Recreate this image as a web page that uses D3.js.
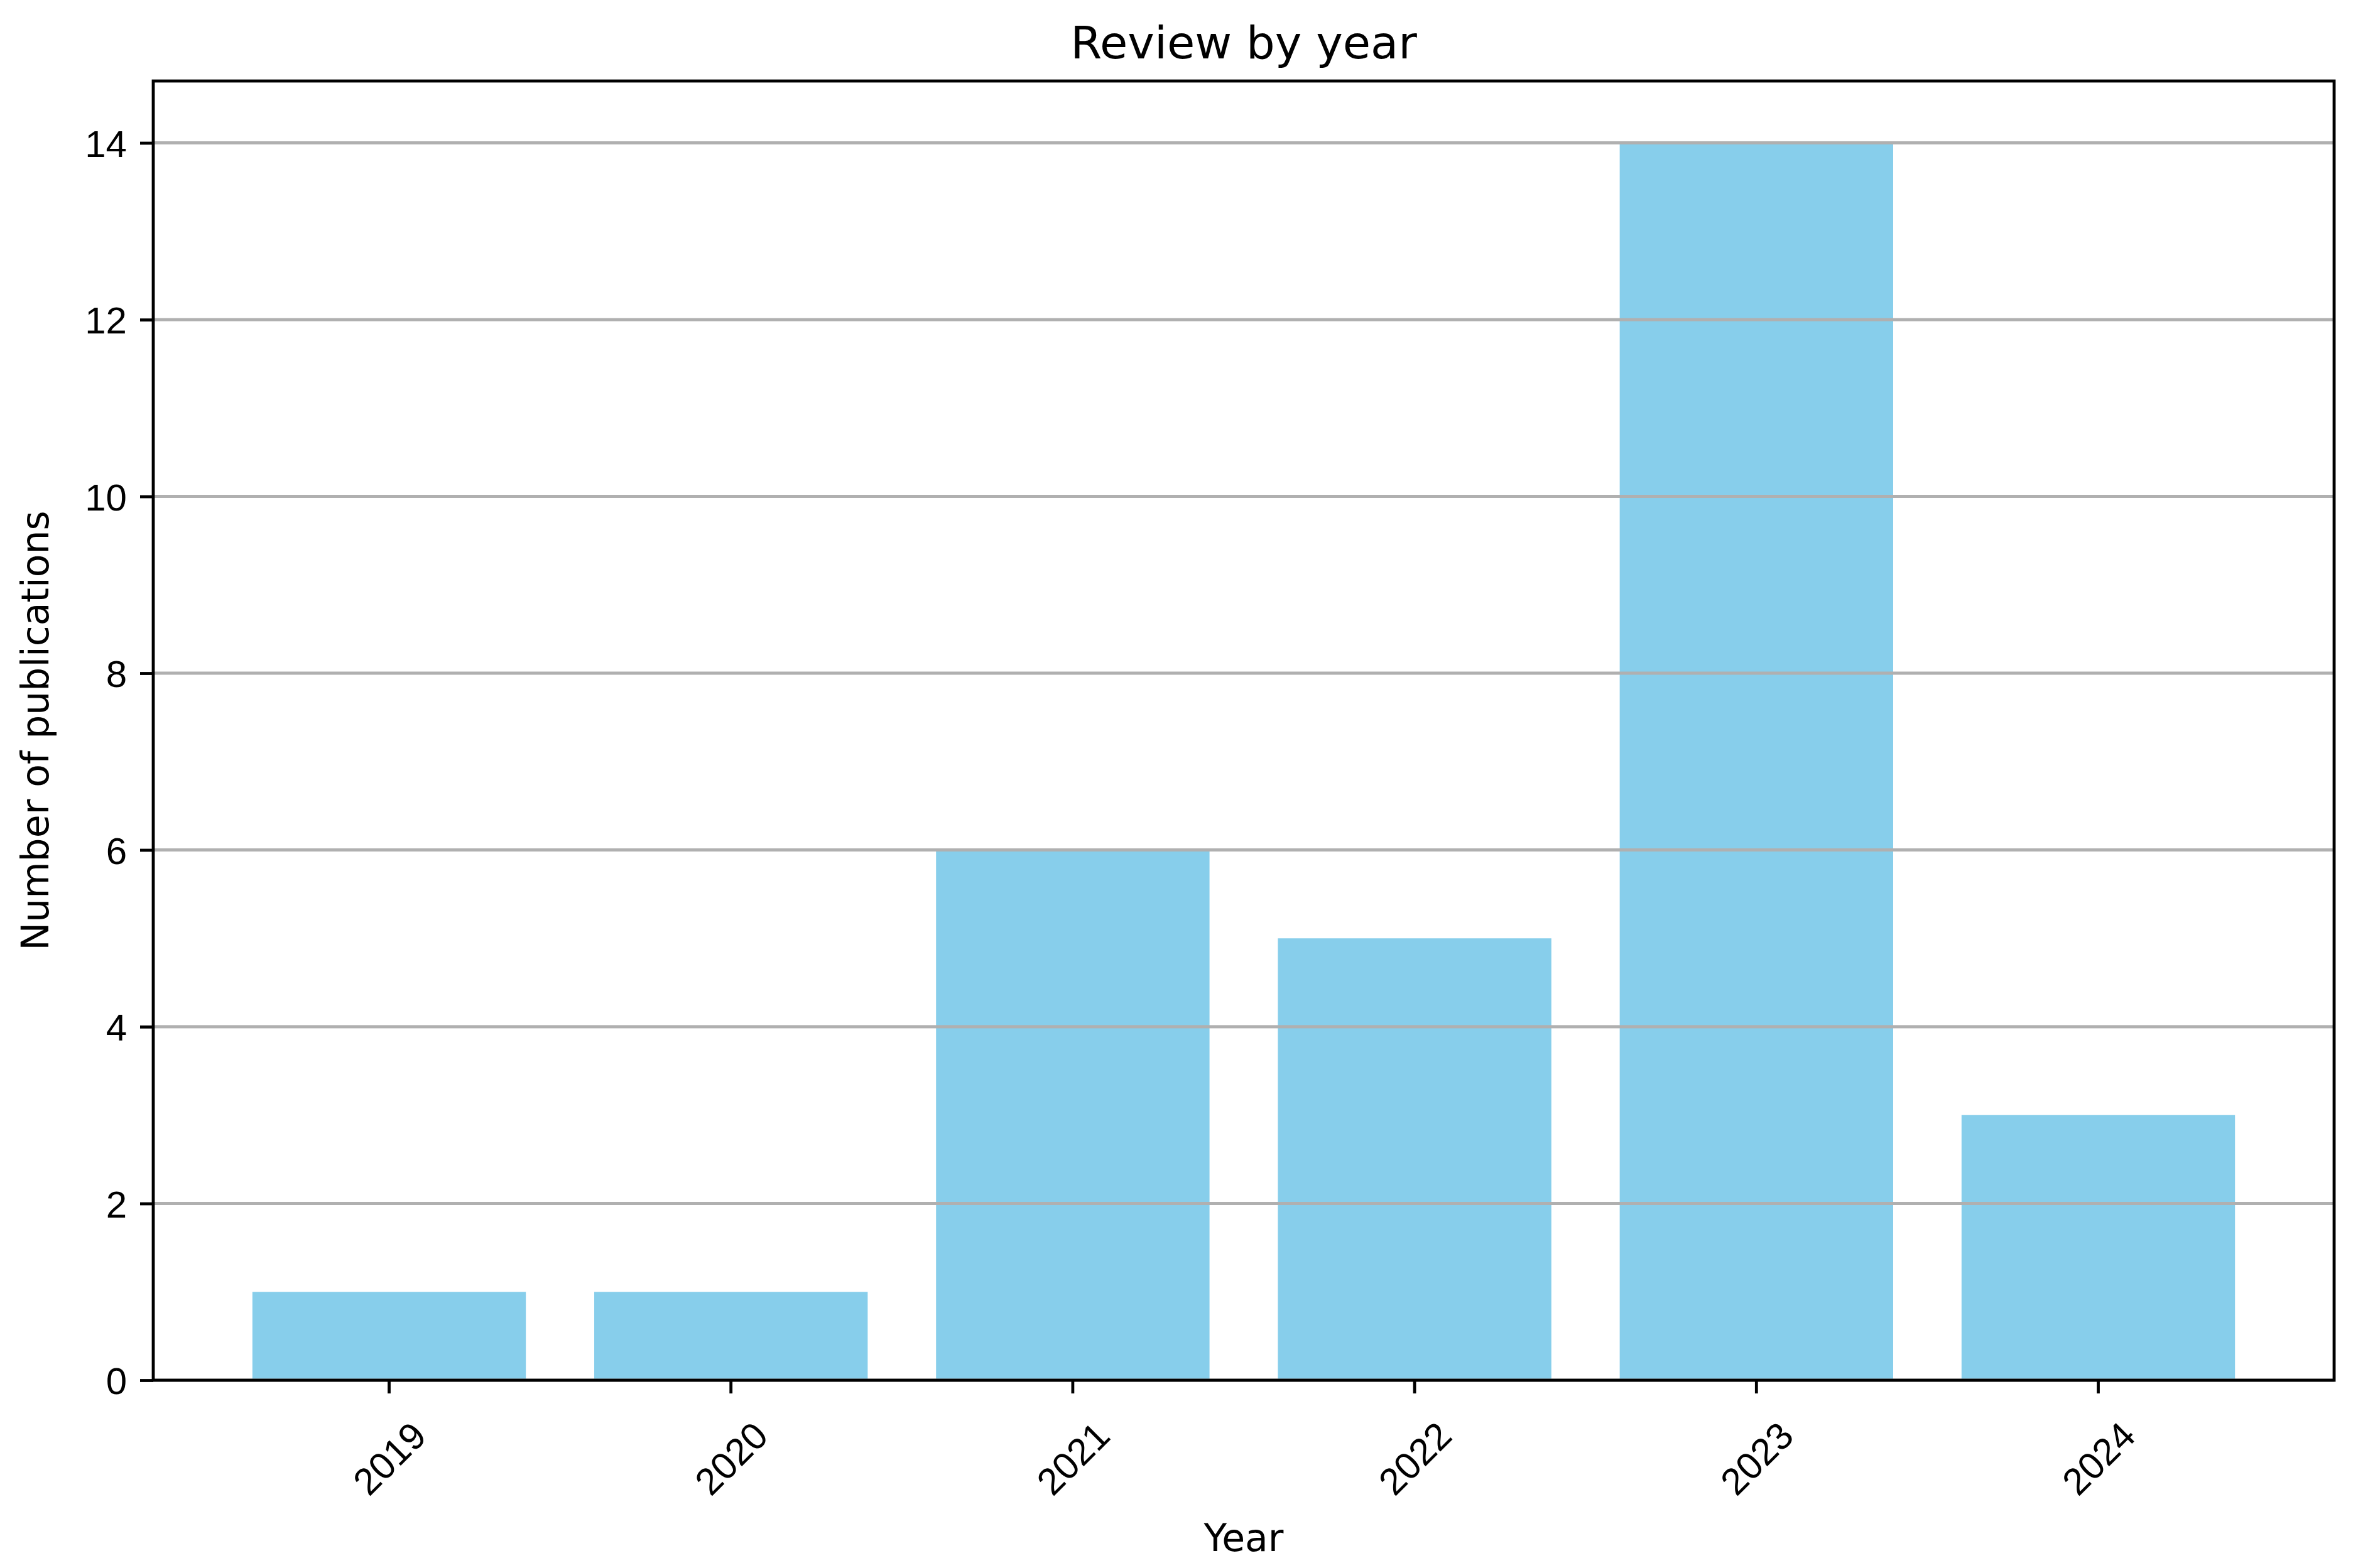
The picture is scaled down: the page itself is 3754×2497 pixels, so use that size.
<!DOCTYPE html>
<html>
<head>
<meta charset="utf-8">
<script src="https://cdn.jsdelivr.net/npm/d3@7"></script>
<style>
body { margin: 0; background: #fff; }
svg { display: block; font-family: "DejaVu Sans", sans-serif; }
</style>
</head>
<body>
<div id="chart"></div>
<script>
// data
var years = ["2019", "2020", "2021", "2022", "2023", "2024"];
var counts = [1, 1, 6, 5, 14, 3];
var yTicks = [0, 2, 4, 6, 8, 10, 12, 14];

var width = 3754;
var height = 2497;
var margin = {left: 244, right: 3754 - 3716, top: 129, bottom: 2497 - 2198};
var lw = 4.8; // 0.8pt

var svg = d3.select("#chart").append("svg")
    .attr("width", width)
    .attr("height", height);
svg.append("rect").attr("width", width).attr("height", height).attr("fill", "#fff");

var x = d3.scaleBand()
    .domain(years)
    .range([margin.left, width - margin.right])
    .paddingInner(0.2)
    .paddingOuter(0.29);

var y = d3.scaleLinear()
    .domain([0, 14 * 1.05])
    .range([height - margin.bottom, margin.top]);

// bars
svg.append("g").selectAll("rect").data(counts).enter()
    .append("rect")
    .attr("x", function (d, i) { return x(years[i]); })
    .attr("y", function (d) { return y(d); })
    .attr("width", x.bandwidth())
    .attr("height", function (d) { return y(0) - y(d); })
    .attr("fill", "#87CEEB");

// grid on top of bars like matplotlib
svg.append("g").selectAll("line").data(yTicks).enter()
    .append("line")
    .attr("x1", margin.left)
    .attr("x2", width - margin.right)
    .attr("y1", function (d) { return y(d); })
    .attr("y2", function (d) { return y(d); })
    .attr("stroke", "#b0b0b0")
    .attr("stroke-width", lw);

// y axis
var yAxis = svg.append("g")
    .attr("transform", "translate(" + margin.left + ",0)")
    .call(d3.axisLeft(y).tickValues(yTicks).tickSize(21).tickPadding(21).tickSizeOuter(0));
yAxis.select(".domain").remove();
yAxis.selectAll(".tick line").attr("stroke", "#000").attr("stroke-width", lw);
yAxis.selectAll(".tick text")
    .attr("fill", "#000")
    .style("font-size", "60px")
    .attr("dy", "0.36em");

// x axis
var xAxis = svg.append("g")
    .attr("transform", "translate(0," + y(0) + ")")
    .call(d3.axisBottom(x).tickSize(21).tickSizeOuter(0));
xAxis.select(".domain").remove();
xAxis.selectAll(".tick line").attr("stroke", "#000").attr("stroke-width", lw);
xAxis.selectAll(".tick text")
    .attr("fill", "#000")
    .style("font-size", "60px")
    .attr("text-anchor", "middle")
    .attr("x", 0)
    .attr("y", 0)
    .attr("dy", "0.36em")
    .attr("transform", "translate(0,124) rotate(-45)");

// frame
svg.append("rect")
    .attr("x", margin.left)
    .attr("y", margin.top)
    .attr("width", width - margin.left - margin.right)
    .attr("height", height - margin.top - margin.bottom)
    .attr("fill", "none")
    .attr("stroke", "#000")
    .attr("stroke-width", lw);

var cx = (margin.left + width - margin.right) / 2;
svg.append("text")
    .attr("x", cx)
    .attr("y", 93)
    .attr("text-anchor", "middle")
    .style("font-size", "72px")
    .text("Review by year");

svg.append("text")
    .attr("x", cx)
    .attr("y", 2470)
    .attr("text-anchor", "middle")
    .style("font-size", "60px")
    .text("Year");

svg.append("text")
    .attr("transform", "translate(77," + (margin.top + height - margin.bottom) / 2 + ") rotate(-90)")
    .attr("text-anchor", "middle")
    .style("font-size", "60px")
    .text("Number of publications");
</script>
</body>
</html>
